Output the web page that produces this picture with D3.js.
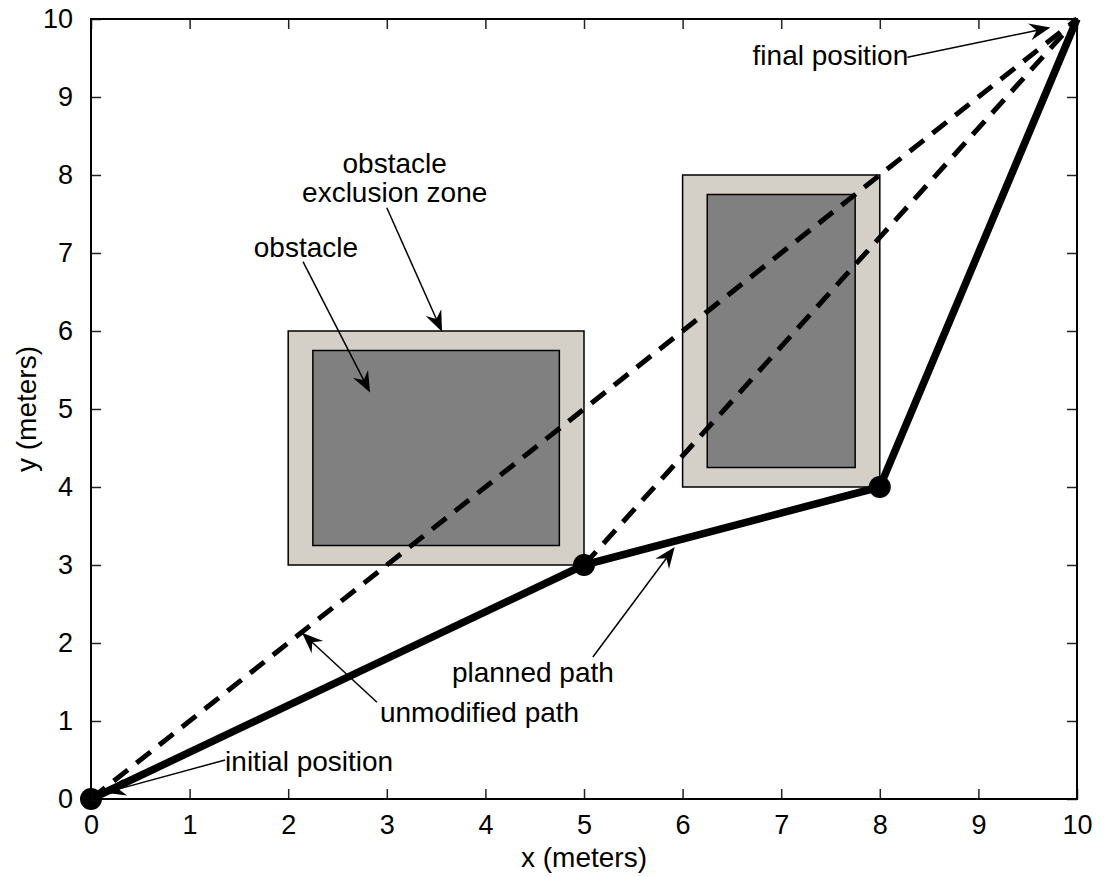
<!DOCTYPE html>
<html>
<head>
<meta charset="utf-8">
<script src="https://cdn.jsdelivr.net/npm/d3@7.9.0/dist/d3.min.js"></script>
<style>
  html, body { margin: 0; padding: 0; background: #fff; }
  svg { display: block; font-family: "Liberation Sans", Arial, sans-serif; }
</style>
</head>
<body>
<svg id="chart" width="1105" height="877"></svg>
<script>
// ---------- data ----------
const xTicks = [0, 1, 2, 3, 4, 5, 6, 7, 8, 9, 10];
const yTicks = [0, 1, 2, 3, 4, 5, 6, 7, 8, 9, 10];

const plannedX = [0, 5, 8, 10];
const plannedY = [0, 3, 4, 10];
const waypoints = [[0, 0], [5, 3], [8, 4]];

// dashed straight-line paths
const unmodifiedPaths = [
  [[0, 0], [10, 10]],
  [[5, 3], [10, 10]],
];

// obstacles: [x0, x1, y0, y1]
const exclusionZones = [[2, 5, 3, 6], [6, 8, 4, 8]];
const obstacles = [[2.25, 4.75, 3.25, 5.75], [6.25, 7.75, 4.25, 7.75]];

// text arrows (data coords): tail, head
const arrows = [
  { tail: [8.28, 9.51], head: [9.73, 9.89] },  // final position
  { tail: [1.36, 0.50], head: [0.14, 0.08] },  // initial position
  { tail: [2.15, 6.89], head: [2.83, 5.21] },  // obstacle
  { tail: [3.00, 7.58], head: [3.56, 5.99] },  // exclusion zone
  { tail: [5.09, 1.82], head: [5.92, 3.23] },  // planned path
  { tail: [2.90, 1.24], head: [2.14, 2.13] },  // unmodified path
];
const labels = [
  { text: 'final position', at: [6.71, 9.41], anchor: 'start' },
  { text: 'initial position', at: [1.36, 0.36], anchor: 'start' },
  { text: 'obstacle', at: [2.18, 6.95], anchor: 'middle' },
  { text: 'obstacle', at: [3.08, 8.03], anchor: 'middle' },
  { text: 'exclusion zone', at: [3.08, 7.65], anchor: 'middle' },
  { text: 'planned path', at: [3.66, 1.50], anchor: 'start' },
  { text: 'unmodified path', at: [2.93, 0.99], anchor: 'start' },
];

// ---------- layout ----------
const margin = { top: 19, right: 28, bottom: 78, left: 91 };
const width = 1105, height = 877;
const svg = d3.select('#chart');

const x = d3.scaleLinear().domain([0, 10]).range([margin.left, width - margin.right]);
const y = d3.scaleLinear().domain([0, 10]).range([height - margin.bottom, margin.top]);
const FS = 28;      // annotation / axis label size
const TICK_FS = 27;

// ---------- obstacles ----------
const rectOf = (sel, data, fill) => sel.selectAll(null)
  .data(data)
  .join('rect')
  .attr('x', d => x(d[0]))
  .attr('y', d => y(d[3]))
  .attr('width', d => x(d[1]) - x(d[0]))
  .attr('height', d => y(d[2]) - y(d[3]))
  .attr('fill', fill)
  .attr('stroke', '#000')
  .attr('stroke-width', 1.5);

const gObs = svg.append('g');
rectOf(gObs, exclusionZones, '#d4d0c8');
rectOf(gObs, obstacles, '#808080');

// ---------- paths ----------
svg.append('g').selectAll('line')
  .data(unmodifiedPaths)
  .join('line')
  .attr('x1', d => x(d[0][0])).attr('y1', d => y(d[0][1]))
  .attr('x2', d => x(d[1][0])).attr('y2', d => y(d[1][1]))
  .attr('stroke', '#000')
  .attr('stroke-width', 5)
  .attr('stroke-dasharray', '18 11');

const planned = d3.zip(plannedX, plannedY);
svg.append('path')
  .datum(planned)
  .attr('d', d3.line().x(d => x(d[0])).y(d => y(d[1])))
  .attr('fill', 'none')
  .attr('stroke', '#000')
  .attr('stroke-width', 7.5)
  .attr('stroke-linejoin', 'round');

svg.append('g').selectAll('circle')
  .data(waypoints)
  .join('circle')
  .attr('cx', d => x(d[0]))
  .attr('cy', d => y(d[1]))
  .attr('r', 11)
  .attr('fill', '#000');

// ---------- axes box ----------
const axG = svg.append('g');
const tickLen = 10;
axG.append('g').attr('transform', `translate(0,${y(0)})`)
  .call(d3.axisBottom(x).tickValues(xTicks).tickSize(-tickLen).tickPadding(tickLen + 6).tickFormat(d3.format('d')));
axG.append('g').attr('transform', `translate(${x(0)},0)`)
  .call(d3.axisLeft(y).tickValues(yTicks).tickSize(-tickLen).tickPadding(tickLen + 8).tickFormat(d3.format('d')));
axG.append('g').attr('transform', `translate(0,${y(10)})`)
  .call(d3.axisTop(x).tickValues(xTicks).tickSize(-tickLen).tickFormat(''));
axG.append('g').attr('transform', `translate(${x(10)},0)`)
  .call(d3.axisRight(y).tickValues(yTicks).tickSize(-tickLen).tickFormat(''));

axG.selectAll('.domain').remove();
axG.selectAll('.tick line').attr('stroke', '#222').attr('stroke-width', 1.5);
axG.selectAll('.tick text').attr('font-size', TICK_FS).attr('fill', '#000')
  .attr('font-family', '"Liberation Sans", Arial, sans-serif');

axG.append('rect')
  .attr('x', x(0)).attr('y', y(10))
  .attr('width', x(10) - x(0)).attr('height', y(0) - y(10))
  .attr('fill', 'none').attr('stroke', '#000').attr('stroke-width', 2);

// axis labels
svg.append('text')
  .attr('x', (x(0) + x(10)) / 2).attr('y', 867)
  .attr('text-anchor', 'middle').attr('font-size', FS)
  .text('x (meters)');
svg.append('text')
  .attr('transform', `translate(36,${(y(0) + y(10)) / 2}) rotate(-90)`)
  .attr('text-anchor', 'middle').attr('font-size', FS)
  .text('y (meters)');

// ---------- annotations ----------
function arrowHead(px, py, angle) {
  const L = 21, W = 8.5, back = 14;
  const pts = [[0, 0], [-L, -W], [-back, 0], [-L, W]];
  const c = Math.cos(angle), s = Math.sin(angle);
  return 'M' + pts.map(([u, v]) => [px + u * c - v * s, py + u * s + v * c].join(',')).join('L') + 'Z';
}

const gAnn = svg.append('g');
arrows.forEach(a => {
  const x1 = x(a.tail[0]), y1 = y(a.tail[1]);
  const x2 = x(a.head[0]), y2 = y(a.head[1]);
  const ang = Math.atan2(y2 - y1, x2 - x1);
  gAnn.append('line')
    .attr('x1', x1).attr('y1', y1)
    .attr('x2', x2 - 12 * Math.cos(ang)).attr('y2', y2 - 12 * Math.sin(ang))
    .attr('stroke', '#000').attr('stroke-width', 1.5);
  gAnn.append('path').attr('d', arrowHead(x2, y2, ang)).attr('fill', '#000');
});

gAnn.selectAll('text')
  .data(labels)
  .join('text')
  .attr('x', d => x(d.at[0]))
  .attr('y', d => y(d.at[1]))
  .attr('text-anchor', d => d.anchor)
  .attr('font-size', FS)
  .text(d => d.text);
</script>
</body>
</html>
